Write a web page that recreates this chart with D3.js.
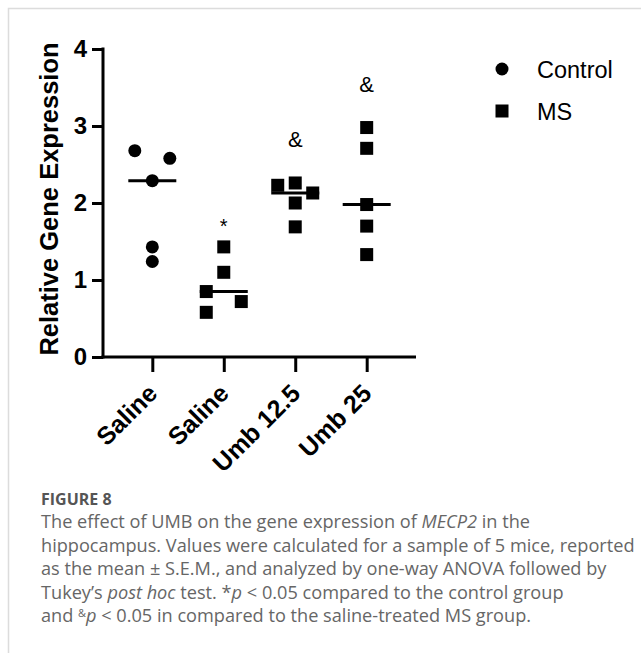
<!DOCTYPE html>
<html>
<head>
<meta charset="UTF-8">
<title>Figure 8</title>
<script src="https://d3js.org/d3.v7.min.js"></script>
<style>
  html, body { margin: 0; padding: 0; background: #fff; }
  svg { display: block; }
  .chart text { font-family: "Liberation Sans", Arial, sans-serif; fill: #000; }
  .caption text { font-family: "Open Sans", "Noto Sans", sans-serif; fill: #666; }
</style>
</head>
<body>
<div id="container"></div>
<script>
// data
var categories   = ["Control Saline", "MS Saline", "MS Umb 12.5", "MS Umb 25"];
var tickLabels   = ["Saline", "Saline", "Umb 12.5", "Umb 25"];
var groupOf      = ["Control", "MS", "MS", "MS"];
var controlSaline = [2.68, 2.58, 2.29, 1.43, 1.24];
var msSaline      = [1.43, 1.10, 0.85, 0.72, 0.58];
var msUmb125      = [2.26, 2.23, 2.13, 2.00, 1.69];
var msUmb25       = [2.98, 2.71, 1.98, 1.70, 1.33];
var marks         = ["", "*", "&", "&"];
var yTicks        = [0, 1, 2, 3, 4];
var legendNames   = ["Control", "MS"];

var series = [controlSaline, msSaline, msUmb125, msUmb25];

var W = 641, H = 653;
var svg = d3.select("#container").append("svg")
    .attr("width", W)
    .attr("height", H);

// light frame round the figure
svg.append("path")
    .attr("d", "M8.5," + H + "V8.5H" + W)
    .attr("fill", "none")
    .attr("stroke", "#dcdcdc")
    .attr("stroke-width", 1.5);

var chart = svg.append("g").attr("class", "chart");

// scales
var x = d3.scalePoint()
    .domain(categories)
    .range([103, 416])
    .padding(0.69);

var y = d3.scaleLinear()
    .domain([0, 4])
    .range([357, 49]);

var size = 13;      // symbol size in px
var slotGap = 17.5; // horizontal spread between overlapping points

// spread points that would overlap, like the scatter plot does
function spread(values) {
    var pts = values.map(function(v) { return {v: v, py: y(v), slot: 0}; })
        .sort(function(a, b) { return b.v - a.v; });
    var clusters = [], cur = [];
    pts.forEach(function(p, i) {
        if (i > 0 && pts[i - 1].py + size > p.py) cur.push(p);
        else { cur = [p]; clusters.push(cur); }
    });
    clusters.forEach(function(cl) {
        var placed = [];
        cl.forEach(function(p) {
            var cands = [0, -1, 1, -2, 2];
            for (var k = 0; k < cands.length; k++) {
                var hit = placed.some(function(q) {
                    return q.slot === cands[k] && Math.abs(q.py - p.py) < size;
                });
                if (!hit) { p.slot = cands[k]; break; }
            }
            placed.push(p);
        });
        // two columns only: set them symmetric about the centre
        var used = unique(cl.map(function(p) { return p.slot; }));
        if (used.length === 2) {
            cl.forEach(function(p) { p.slot = p.slot === used[0] ? -1 : 1; });
        }
    });
    return pts;
}

function unique(list) {
    var out = [];
    list.forEach(function(e) { if (!out.includes(e)) out.push(e); });
    return out;
}

// y axis
var yAxis = chart.append("g")
    .attr("transform", "translate(103,0)")
    .call(d3.axisLeft(y).tickValues(yTicks).tickFormat(d3.format("d"))
        .tickSize(11).tickSizeOuter(0).tickPadding(5));

// x axis
var xAxis = chart.append("g")
    .attr("transform", "translate(0,357)")
    .call(d3.axisBottom(x).tickSize(15).tickSizeOuter(0)
        .tickFormat(function(d, i) { return tickLabels[i]; }));

[yAxis, xAxis].forEach(function(ax) {
    ax.select(".domain").attr("stroke", "#000").attr("stroke-width", 3);
    ax.selectAll(".tick line").attr("stroke", "#000").attr("stroke-width", 3);
    ax.selectAll("text")
        .attr("font-family", "Liberation Sans, Arial, sans-serif")
        .attr("font-weight", "bold")
        .attr("fill", "#000");
});
yAxis.select(".domain").attr("d", "M0," + (y(4) - 1.5) + "V" + (y(0) + 1.5));
xAxis.select(".domain").attr("d", "M" + (103 - 1.5) + ",0H416");
yAxis.selectAll("text").attr("font-size", 24);

xAxis.selectAll("text")
    .attr("y", null)
    .attr("dy", null)
    .attr("font-size", 25)
    .attr("text-anchor", "end")
    .attr("transform", "translate(6,38) rotate(-45)");

// y title
chart.append("text")
    .attr("transform", "translate(58,199) rotate(-90)")
    .attr("text-anchor", "middle")
    .attr("font-size", 25.5)
    .attr("font-weight", "bold")
    .text("Relative Gene Expression");

// points and median lines
series.forEach(function(vals, gi) {
    var cx = x(categories[gi]);
    var pts = spread(vals);
    var g = chart.append("g");
    if (groupOf[gi] === "Control") {
        g.selectAll("circle").data(pts).enter().append("circle")
            .attr("cx", function(d) { return cx + d.slot * slotGap; })
            .attr("cy", function(d) { return d.py; })
            .attr("r", size / 2)
            .attr("fill", "#000");
    } else {
        g.selectAll("rect").data(pts).enter().append("rect")
            .attr("x", function(d) { return cx + d.slot * slotGap - size / 2; })
            .attr("y", function(d) { return d.py - size / 2; })
            .attr("width", size)
            .attr("height", size)
            .attr("fill", "#000");
    }
    var med = d3.median(vals);
    g.append("line")
        .attr("x1", cx - 24).attr("x2", cx + 24)
        .attr("y1", y(med)).attr("y2", y(med))
        .attr("stroke", "#000")
        .attr("stroke-width", 3);

    if (marks[gi]) {
        var lift = marks[gi] === "*" ? 14 : 36;
        g.append("text")
            .attr("x", cx)
            .attr("y", y(d3.max(vals)) - lift)
            .attr("text-anchor", "middle")
            .attr("font-size", marks[gi] === "*" ? 20 : 22)
            .text(marks[gi]);
    }
});

// legend
var legend = chart.append("g").attr("transform", "translate(502,69)");
legendNames.forEach(function(name, i) {
    var row = legend.append("g").attr("transform", "translate(0," + (i * 42) + ")");
    if (i === 0) row.append("circle").attr("r", size / 2).attr("fill", "#000");
    else row.append("rect").attr("x", -size / 2).attr("y", -size / 2)
        .attr("width", size).attr("height", size).attr("fill", "#000");
    row.append("text")
        .attr("x", 35)
        .attr("y", 8.5)
        .attr("font-size", 23.5)
        .text(name);
});

// caption
var cap = svg.append("g").attr("class", "caption");
cap.append("text")
    .attr("x", 41).attr("y", 505)
    .attr("font-size", 16)
    .attr("font-weight", 700)
    .style("fill", "#555")
    .text("FIGURE 8");

var lines = [
    [["The effect of UMB on the gene expression of ", ""], ["MECP2", "i"], [" in the", ""]],
    [["hippocampus. Values were calculated for a sample of 5 mice, reported", ""]],
    [["as the mean ± S.E.M., and analyzed by one-way ANOVA followed by", ""]],
    [["Tukey\u2019s ", ""], ["post hoc", "i"], [" test. *", ""], ["p", "i"], [" < 0.05 compared to the control group", ""]],
    [["and ", ""], ["&", "sup"], ["p", "i"], [" < 0.05 in compared to the saline-treated MS group.", ""]]
];

var capSize = 16;
var body = cap.append("g");
lines.forEach(function(parts, li) {
    var t = body.append("text")
        .attr("x", 41)
        .attr("y", 528 + li * 23.5)
        .attr("font-size", capSize);
    var raised = false;
    parts.forEach(function(p) {
        var s = t.append("tspan").text(p[0]);
        if (p[1] === "i") s.attr("font-style", "italic");
        if (raised) { s.attr("dy", 5); raised = false; }
        if (p[1] === "sup") { s.attr("class", "sup").attr("dy", -5); raised = true; }
    });
});
// fit the longest line to the width it has in the figure
var w2 = body.selectAll("text").nodes()[1].getComputedTextLength();
var k = 594 / w2;
body.selectAll("text").attr("font-size", capSize * k);
body.selectAll("tspan.sup").attr("font-size", capSize * k * 0.6);
</script>
</body>
</html>
